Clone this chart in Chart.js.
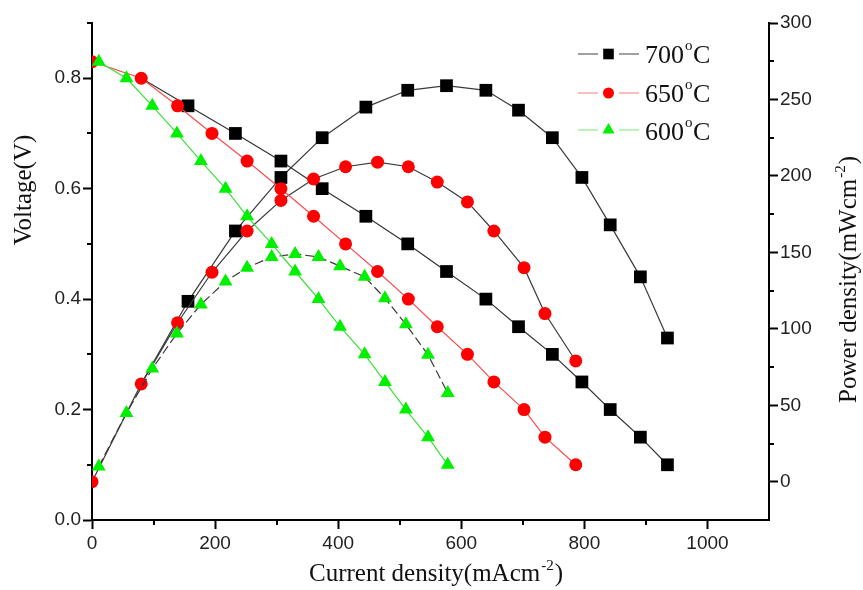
<!DOCTYPE html>
<html><head><meta charset="utf-8">
<script src="https://cdn.jsdelivr.net/npm/chart.js@4/dist/chart.umd.min.js"></script>
<style>html,body{margin:0;padding:0;background:#fff;}canvas{display:block;}</style>
</head><body>
<canvas id="c" width="863" height="590"></canvas>
<script>
// ---- data ----
const seriesLabels = ['700', '650', '600']; // °C
const current700 = [80, 156, 233, 307, 374, 445, 513, 576, 640, 693, 748, 796, 842, 891, 935];
const voltage700 = [0.80, 0.75, 0.70, 0.65, 0.60, 0.55, 0.50, 0.45, 0.40, 0.35, 0.30, 0.25, 0.20, 0.15, 0.10];
const power700   = [64, 118, 164, 199, 225, 245, 256, 259, 256, 243, 225, 199, 168, 134, 94];

const current650 = [0, 80, 139, 195, 252, 307, 360, 412, 464, 514, 561, 610, 653, 702, 736, 786];
const voltage650 = [0.83, 0.80, 0.75, 0.70, 0.65, 0.60, 0.55, 0.50, 0.45, 0.40, 0.35, 0.30, 0.25, 0.20, 0.15, 0.10];
const power650   = [0, 64, 104, 137, 164, 184, 198, 206, 209, 206, 196, 183, 164, 140, 110, 79];

const current600 = [11, 56, 98, 138, 177, 217, 252, 292, 330, 368, 403, 443, 476, 510, 546, 578];
const voltage600 = [0.83, 0.80, 0.75, 0.70, 0.65, 0.60, 0.55, 0.50, 0.45, 0.40, 0.35, 0.30, 0.25, 0.20, 0.15, 0.10];
const power600   = [10, 45, 74, 97, 116, 131, 140, 147, 149, 147, 141, 134, 120, 103, 83, 58];

const xTickLabels  = [0, 200, 400, 600, 800, 1000];
const yTickLabels  = ['0.0', '0.2', '0.4', '0.6', '0.8'];
const y1TickLabels = [0, 50, 100, 150, 200, 250, 300];

const xTitle  = ['Current density(mAcm', '-2', ')'];
const yTitle  = 'Voltage(V)';
const y1Title = ['Power density(mWcm', '-2', ')'];

// ---- styles ----
const SERIF = '"Liberation Serif", "Times New Roman", serif';
const SANS = '"Liberation Sans", Arial, sans-serif';
const styles = [
  {line:'#333333', legendLine:'#444444', fill:'#000000', shape:'rect', r:9, lr:7.5},
  {line:'#ff4a4a', legendLine:'#ff7a7a', fill:'#ff0000', shape:'circle', r:6.5, lr:5.5},
  {line:'#3ae03a', legendLine:'#7ae87a', fill:'#00f000', shape:'triangle', r:8, lr:7}
];
function pts(xs, ys) { return xs.map((x, i) => ({x: x, y: ys[i]})); }
const currents = [current700, current650, current600];
const voltages = [voltage700, voltage650, voltage600];
const powers = [power700, power650, power600];

const datasets = [];
for (let i = 0; i < 3; i++) {
  const s = styles[i];
  // the first 700 °C marker sits hidden under the 650 °C circle in the reference
  const radius = i === 0 ? (c => c.dataIndex === 0 ? 6 : s.r) : s.r;
  const common = {
    pointStyle: s.shape, pointRadius: radius, pointHoverRadius: radius,
    pointBackgroundColor: s.fill, pointBorderColor: s.fill, pointBorderWidth: 0,
    tension: 0, fill: false
  };
  datasets.push(Object.assign({}, common, {
    label: seriesLabels[i] + '°C voltage', data: pts(currents[i], voltages[i]), yAxisID: 'y',
    borderColor: s.line, borderWidth: 1.2, order: 10 - 2 * i
  }));
  datasets.push(Object.assign({}, common, {
    label: seriesLabels[i] + '°C power', data: pts(currents[i], powers[i]), yAxisID: 'y1',
    borderColor: '#3a3a3a', borderWidth: 1.2, borderDash: i === 2 ? [9, 4] : [], order: 11 - 2 * i
  }));
}

function drawShape(ctx, shape, x, y, r) {
  ctx.beginPath();
  if (shape === 'rect') {
    const h = r * Math.SQRT1_2; ctx.rect(x - h, y - h, 2 * h, 2 * h);
  } else if (shape === 'circle') {
    ctx.arc(x, y, r, 0, Math.PI * 2);
  } else {
    ctx.moveTo(x, y - r);
    ctx.lineTo(x + r * 0.866, y + r / 2);
    ctx.lineTo(x - r * 0.866, y + r / 2);
    ctx.closePath();
  }
  ctx.fill();
}
// draws [main, superscript, tail] starting at (x, baseline y) in the current transform
function drawSup(ctx, parts, x, y, size, supSize, rise) {
  ctx.textAlign = 'left'; ctx.textBaseline = 'alphabetic';
  ctx.font = size + 'px ' + SERIF;
  ctx.fillText(parts[0], x, y); x += ctx.measureText(parts[0]).width + 1;
  ctx.font = supSize + 'px ' + SERIF;
  ctx.fillText(parts[1], x, y - rise); x += ctx.measureText(parts[1]).width + 1;
  ctx.font = size + 'px ' + SERIF;
  ctx.fillText(parts[2], x, y);
}

const overlay = {
  id: 'overlay',
  afterDraw(chart) {
    const ctx = chart.ctx;
    const sx = chart.scales.x, sy = chart.scales.y, sy1 = chart.scales.y1;
    const a = chart.chartArea;
    ctx.save();
    // minor ticks
    ctx.strokeStyle = '#000'; ctx.lineWidth = 2;
    ctx.beginPath();
    [100, 300, 500, 700, 900].forEach(v => { const p = Math.round(sx.getPixelForValue(v)); ctx.moveTo(p, a.bottom); ctx.lineTo(p, a.bottom + 5); });
    [0.1, 0.3, 0.5, 0.7, 0.9].forEach(v => { const p = Math.round(sy.getPixelForValue(v)); ctx.moveTo(a.left, p); ctx.lineTo(a.left - 5, p); });
    [25, 75, 125, 175, 225, 275].forEach(v => { const p = Math.round(sy1.getPixelForValue(v)); ctx.moveTo(a.right, p); ctx.lineTo(a.right + 5, p); });
    ctx.stroke();

    ctx.fillStyle = '#111';
    // x title
    drawSup(ctx, xTitle, 309, 581, 25, 15, 11);
    // left title
    ctx.save();
    ctx.translate(31, 190); ctx.rotate(-Math.PI / 2);
    ctx.font = '25px ' + SERIF; ctx.textAlign = 'center'; ctx.textBaseline = 'alphabetic';
    ctx.fillText(yTitle, 0, 0);
    ctx.restore();
    // right title
    ctx.save();
    ctx.translate(856, 403); ctx.rotate(-Math.PI / 2);
    drawSup(ctx, y1Title, 0, 0, 25, 15, 11);
    ctx.restore();

    // legend
    const rowsMarker = [54, 93, 130];
    const rowsBase = [63, 102, 140];
    for (let i = 0; i < 3; i++) {
      const s = styles[i];
      ctx.strokeStyle = s.legendLine; ctx.lineWidth = 1.2;
      ctx.beginPath();
      ctx.moveTo(578, rowsMarker[i]); ctx.lineTo(598, rowsMarker[i]);
      ctx.moveTo(619, rowsMarker[i]); ctx.lineTo(639, rowsMarker[i]);
      ctx.stroke();
      ctx.fillStyle = s.fill;
      drawShape(ctx, s.shape, 608.5, rowsMarker[i], s.lr);
      ctx.fillStyle = '#111';
      ctx.textAlign = 'left'; ctx.textBaseline = 'alphabetic';
      ctx.font = '26px ' + SERIF;
      ctx.fillText(seriesLabels[i], 645, rowsBase[i]);
      let x = 645 + ctx.measureText(seriesLabels[i]).width + 1;
      ctx.font = '15px ' + SERIF;
      ctx.fillText('o', x, rowsBase[i] - 13);
      x += ctx.measureText('o').width + 0.5;
      ctx.font = '26px ' + SERIF;
      ctx.fillText('C', x, rowsBase[i]);
    }
    ctx.restore();
  }
};

const tickFont = {family: SANS, size: 19};
new Chart(document.getElementById('c'), {
  type: 'line',
  data: {datasets: datasets},
  options: {
    responsive: false, animation: false, devicePixelRatio: 1,
    layout: {padding: {top: 23, left: 0, right: 0, bottom: 0}},
    plugins: {legend: {display: false}, tooltip: {enabled: false}},
    scales: {
      x: {
        type: 'linear', position: 'bottom', min: 0, max: 1100,
        afterFit: s => { s.height = 70; },
        ticks: {stepSize: 100, autoSkip: false, maxRotation: 0, padding: 3, color: '#222', font: tickFont,
          callback: v => (xTickLabels.includes(v) ? String(v) : '')},
        grid: {display: true, drawOnChartArea: false, drawTicks: true, tickLength: 9, tickWidth: 2,
          tickColor: c => (c.tick && xTickLabels.includes(c.tick.value)) ? '#000' : 'rgba(0,0,0,0)'},
        border: {display: true, color: '#000', width: 2}
      },
      y: {
        type: 'linear', position: 'left', min: 0, max: 0.9,
        afterFit: s => { s.width = 92; },
        ticks: {stepSize: 0.1, autoSkip: false, padding: 2, color: '#222', font: tickFont,
          callback: v => { const t = v.toFixed(1); return yTickLabels.includes(t) ? t : ''; }},
        grid: {display: true, drawOnChartArea: false, drawTicks: true, tickLength: 9, tickWidth: 2,
          tickColor: c => (c.tick && yTickLabels.includes(c.tick.value.toFixed(1))) ? '#000' : 'rgba(0,0,0,0)'},
        border: {display: true, color: '#000', width: 2}
      },
      y1: {
        type: 'linear', position: 'right', min: -25, max: 300,
        afterFit: s => { s.width = 94; },
        ticks: {stepSize: 25, autoSkip: false, padding: 2, color: '#222', font: tickFont,
          callback: v => (y1TickLabels.includes(v) ? String(v) : '')},
        grid: {display: true, drawOnChartArea: false, drawTicks: true, tickLength: 9, tickWidth: 2,
          tickColor: c => (c.tick && y1TickLabels.includes(c.tick.value)) ? '#000' : 'rgba(0,0,0,0)'},
        border: {display: true, color: '#000', width: 2}
      }
    }
  },
  plugins: [overlay]
});
</script>
</body></html>
